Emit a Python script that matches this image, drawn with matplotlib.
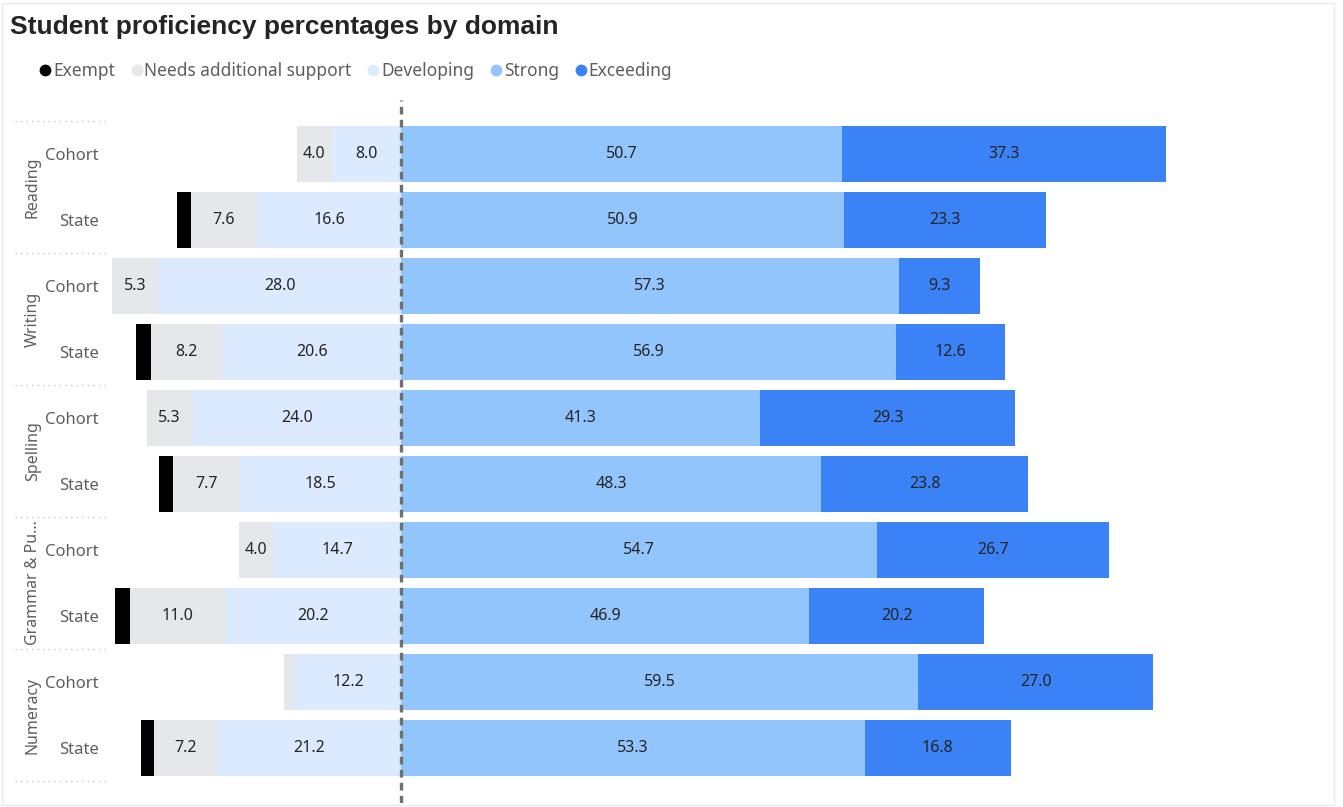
import numpy as np
import matplotlib.pyplot as plt
from matplotlib.lines import Line2D
from matplotlib.patches import Rectangle
import matplotlib.transforms as mtransforms

# ---------------------------------------------------------------- data
domains = ['Reading', 'Writing', 'Spelling', 'Grammar & Pu...', 'Numeracy']
groups = ['Cohort', 'State']

exempt = [0.0, 1.6, 0.0, 1.7, 0.0, 1.7, 0.0, 1.7, 0.0, 1.5]
needs_support = [4.0, 7.6, 5.3, 8.2, 5.3, 7.7, 4.0, 11.0, 1.3, 7.2]
developing = [8.0, 16.6, 28.0, 20.6, 24.0, 18.5, 14.7, 20.2, 12.2, 21.2]
strong = [50.7, 50.9, 57.3, 56.9, 41.3, 48.3, 54.7, 46.9, 59.5, 53.3]
exceeding = [37.3, 23.3, 9.3, 12.6, 29.3, 23.8, 26.7, 20.2, 27.0, 16.8]

levels = ['Exempt', 'Needs additional support', 'Developing', 'Strong', 'Exceeding']
colours = ['#000000', '#E5E7EB', '#DBEAFE', '#93C5FD', '#3B82F6']

# ---------------------------------------------------------------- layout
W, H = 1343, 807
plt.rcParams['font.family'] = ['Noto Sans', 'DejaVu Sans']
label_grey = '#605E5C'
text_dark = '#252423'

fig = plt.figure(figsize=(W / 100, H / 100), dpi=100)
ax = fig.add_axes([110 / W, 1 - 803 / H, (1320 - 110) / W, (803 - 100) / H])

n_rows = len(domains) * len(groups)
y = np.arange(n_rows)
bar_h = 0.86

exempt = np.array(exempt)
needs_support = np.array(needs_support)
developing = np.array(developing)
strong = np.array(strong)
exceeding = np.array(exceeding)

# negative side grows leftwards from zero, positive side rightwards
segments = [
    (-(developing + needs_support + exempt), exempt),
    (-(developing + needs_support), needs_support),
    (-developing, developing),
    (np.zeros(n_rows), strong),
    (strong, exceeding),
]

for (left, width), colour, name in zip(segments, colours, levels):
    ax.barh(y, width, left=left, height=bar_h, color=colour, label=name,
            edgecolor='none', zorder=2)
    for yi, l, w in zip(y, left, width):
        if w >= 3:
            ax.text(l + w / 2, yi, f'{w:.1f}', ha='center', va='center',
                    fontsize=11.5, color=text_dark, zorder=3)

ax.axvline(0, color='#707070', lw=2.4, ls=(0, (2.3, 1.6)), zorder=4)

ax.set_xlim(-33.5, 105.7)
ax.set_ylim(n_rows - 1 + 55 / 66, -54 / 66)
ax.set_xticks([])
ax.set_yticks(y)
ax.set_yticklabels(groups * len(domains), fontsize=12, color=label_grey)
ax.tick_params(axis='y', length=0, pad=8)
for s in ax.spines.values():
    s.set_visible(False)

# domain labels and dotted separators in the label column
trans = mtransforms.blended_transform_factory(fig.transFigure, ax.transData)
for k, name in enumerate(domains):
    ax.text(33 / W, 2 * k + 0.5, name, rotation=90, ha='center', va='center',
            fontsize=11.5, color=label_grey, transform=trans)
for k in range(len(domains) + 1):
    ax.add_line(Line2D([15 / W, 108 / W], [2 * k - 0.5, 2 * k - 0.5],
                       transform=trans, color='#C8C8C8', lw=1, ls=(0, (1, 3)),
                       clip_on=False))

# title and legend
fig.text(10 / W, 1 - 27 / H, 'Student proficiency percentages by domain',
         fontsize=19, fontweight='bold', color=text_dark, va='center',
         family='Liberation Sans')

handles = [Line2D([], [], marker='o', ls='none', markersize=8.5,
                  markerfacecolor=c, markeredgecolor='none') for c in colours]
leg = fig.legend(handles, levels, loc='center left',
                 bbox_to_anchor=(40 / W, 1 - 71 / H), ncol=5, frameon=False,
                 handlelength=0.6, handletextpad=0.15, columnspacing=0.95,
                 borderpad=0, borderaxespad=0, fontsize=12.5)
for t in leg.get_texts():
    t.set_color(label_grey)

fig.patches.append(Rectangle((2 / W, 1 - 805 / H), 1332 / W, 802 / H,
                             transform=fig.transFigure, fill=False,
                             edgecolor='#EAEAEA', lw=1))

fig.savefig('out.png', dpi=100)
